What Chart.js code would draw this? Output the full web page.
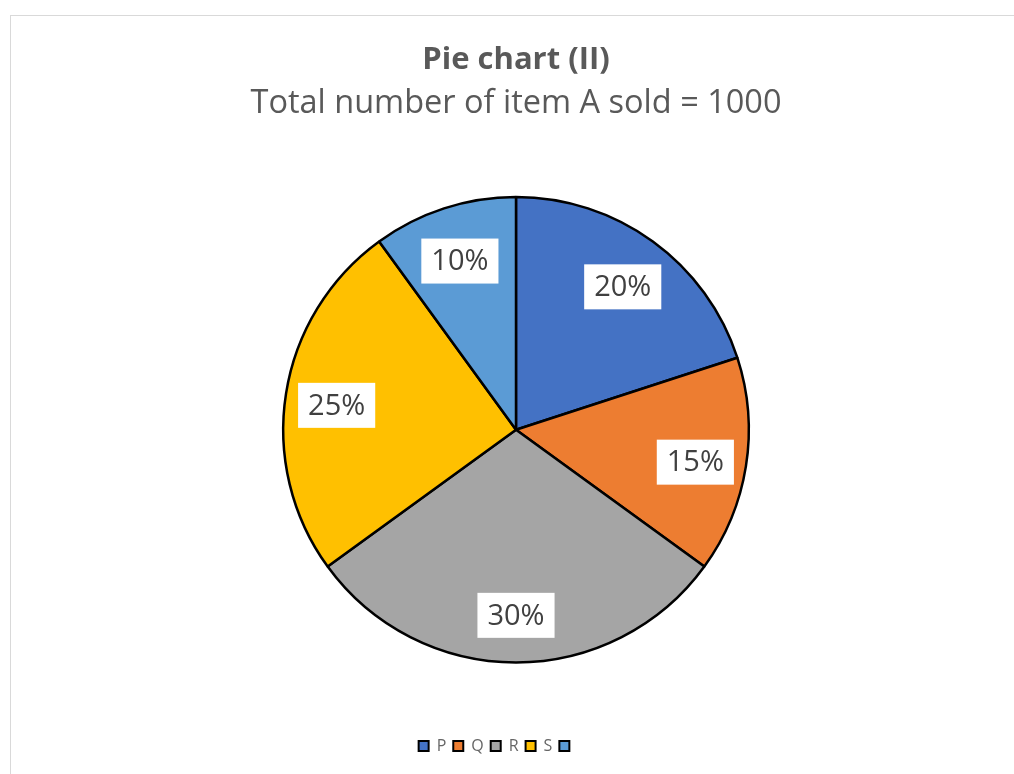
<!DOCTYPE html>
<html>
<head>
<meta charset="utf-8">
<script src="https://cdn.jsdelivr.net/npm/chart.js@4.4.0/dist/chart.umd.min.js"></script>
<style>
  html, body { margin: 0; padding: 0; background: #fff; }
  #frame {
    position: absolute; left: 10px; top: 15px; width: 1010px; height: 770px;
    border-left: 1px solid #d9d9d9; border-top: 1px solid #d9d9d9;
  }
  #wrap { position: absolute; left: 0; top: 0; width: 1014px; height: 774px; }
</style>
</head>
<body>
<div id="frame"></div>
<div id="wrap"><canvas id="pieChart" width="1014" height="774"></canvas></div>
<script>
  const labels = ['P', 'Q', 'R', 'S', ''];
  const shares = [20, 15, 30, 25, 10];
  const sliceColors = ['#4472C4', '#ED7D31', '#A5A5A5', '#FFC000', '#5B9BD5'];
  const titleText = 'Pie chart (II)';
  const subtitleText = 'Total number of item A sold = 1000';

  const textGray = '#595959';
  const fontFam = '"Open Sans", sans-serif';

  // white boxed percent labels, like the excel data labels
  const boxLabels = {
    id: 'boxLabels',
    afterDatasetsDraw(chart) {
      const ctx = chart.ctx;
      const meta = chart.getDatasetMeta(0);
      ctx.save();
      ctx.font = '29px ' + fontFam;
      ctx.textAlign = 'center';
      ctx.textBaseline = 'middle';
      meta.data.forEach((arc, i) => {
        const p = arc.getProps(['x', 'y', 'startAngle', 'endAngle', 'outerRadius'], true);
        const mid = (p.startAngle + p.endAngle) / 2;
        const dist = p.outerRadius * 0.78;
        const x = p.x + Math.cos(mid) * dist;
        const y = p.y + Math.sin(mid) * dist + 4;
        const txt = shares[i] + '%';
        const w = ctx.measureText(txt).width + 20;
        const h = 45;
        ctx.fillStyle = '#ffffff';
        ctx.fillRect(x - w / 2, y - h / 2, w, h);
        ctx.fillStyle = '#404040';
        ctx.fillText(txt, x, y + 1);
      });
      ctx.restore();
    }
  };

  // legend sits a bit left of the pie centre in the original
  const legendShift = {
    id: 'legendShift',
    afterLayout(chart) {
      chart.legend.left -= 18;
      chart.legend.right -= 18;
    }
  };

  new Chart(document.getElementById('pieChart').getContext('2d'), {
    type: 'pie',
    data: {
      labels: labels,
      datasets: [{
        data: shares,
        backgroundColor: sliceColors,
        borderColor: '#000000',
        borderWidth: 2.5
      }]
    },
    options: {
      responsive: false,
      animation: false,
      layout: { padding: { top: 0, bottom: 10, left: 18, right: 0 } },
      plugins: {
        title: {
          display: true,
          text: titleText,
          color: textGray,
          font: { family: fontFam, size: 31, weight: 'bold' },
          padding: { top: 41.5, bottom: 0 }
        },
        subtitle: {
          display: true,
          text: subtitleText,
          color: textGray,
          font: { family: fontFam, size: 32.5, weight: 'normal' },
          padding: { top: 6, bottom: 72 }
        },
        legend: {
          display: true,
          position: 'bottom',
          title: { display: true, text: '', font: { size: 1 }, padding: { top: 66, bottom: 0 } },
          labels: {
            color: textGray,
            boxWidth: 10,
            boxHeight: 10,
            padding: 7,
            font: { family: fontFam, size: 16 },
            generateLabels(chart) {
              return labels.map((l, i) => ({
                text: l,
                fillStyle: sliceColors[i],
                strokeStyle: '#000000',
                lineWidth: 2,
                hidden: false,
                index: i
              }));
            }
          }
        },
        tooltip: { enabled: false }
      }
    },
    plugins: [boxLabels, legendShift]
  });
</script>
</body>
</html>
